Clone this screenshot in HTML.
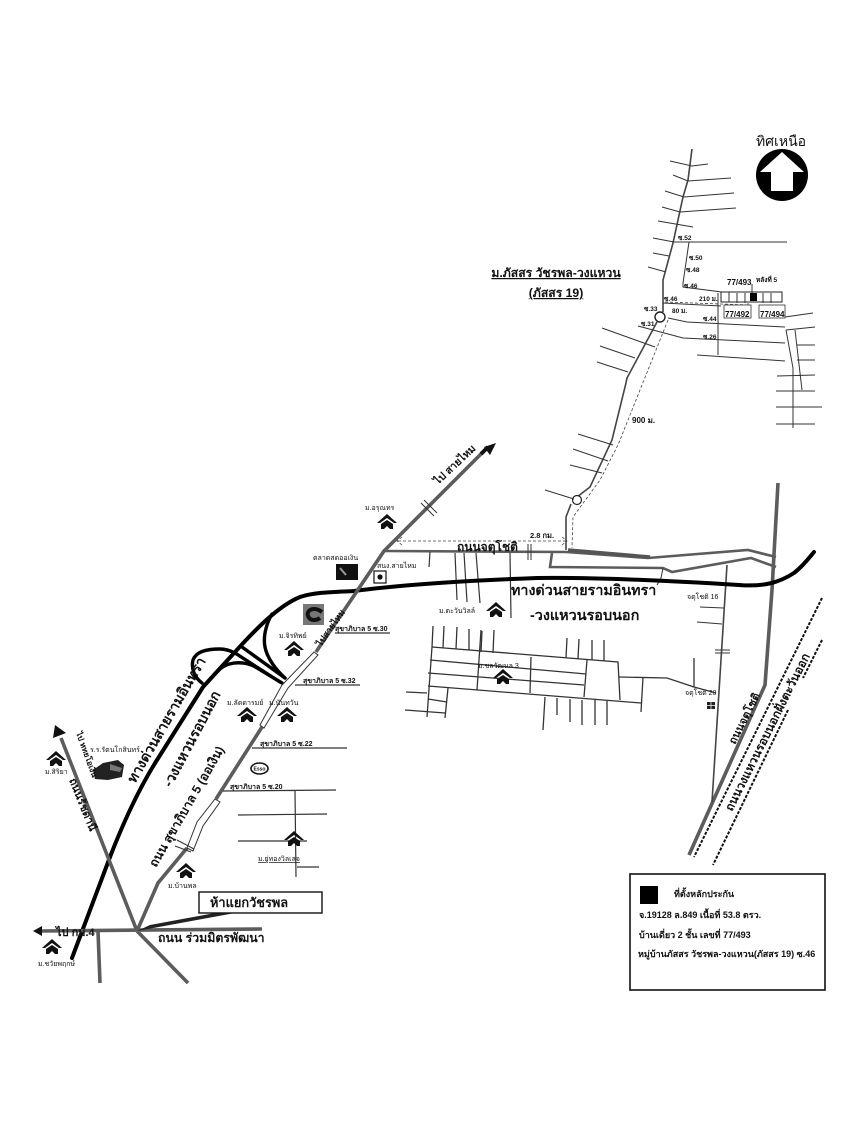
<!DOCTYPE html>
<html><head><meta charset="utf-8"><style>
html,body{margin:0;padding:0;background:#fff}
svg{display:block}
text{font-family:"Liberation Sans","DejaVu Sans","Noto Sans CJK SC",sans-serif;fill:#111}
.b{font-weight:bold}
.t{fill:none;stroke:#333;stroke-width:1}
.m{fill:none;stroke:#444;stroke-width:1.6}
.g{fill:none;stroke:#5c5c5c;stroke-width:3.6}
.k{fill:none;stroke:#000;stroke-width:4;stroke-linecap:round}
.d{fill:none;stroke:#444;stroke-width:.8;stroke-dasharray:3 2}
.dk{fill:none;stroke:#111;stroke-width:2;stroke-dasharray:3 1.5}
</style></head><body>
<svg width="850" height="1141" viewBox="0 0 850 1141" xmlns="http://www.w3.org/2000/svg">
<defs>
<g id="h"><path d="M0 -9 L10 0 L7 0 L0 -5 L-7 0 L-10 0Z" fill="#111"/><path d="M-6 1 L0 -3 L6 1 L6 6 L3 6 L0 3 L-3 6 L-6 6Z" fill="#111"/></g>
</defs>
<rect width="850" height="1141" fill="#fff"/>

<!-- north compass -->
<text x="781" y="146" font-size="14" text-anchor="middle">ทิศเหนือ</text>
<circle cx="782" cy="175" r="26" fill="#000"/>
<polygon points="782,152 804,172 793,172 793,191 771,191 771,172 760,172" fill="#fff"/>

<!-- upper village network -->
<path class="m" d="M692 149 L688 180 L683 197 L673 243 L663 280 L663 312"/>
<path class="m" d="M657 322 L627 378 L626 383 L612 440 L590 487 L577 497"/>
<path class="m" d="M571 504 L566 517 L566 550"/>
<circle cx="660" cy="317" r="5" fill="#fff" stroke="#222" stroke-width="1.4"/>
<circle cx="577" cy="500" r="4.500" fill="#fff" stroke="#222" stroke-width="1.2"/>
<path class="t" d="M670 161 L692 166 L708 164M673 175 L688 181 L731 178M665 191 L684 197 L734 193M662 207 L680 212 L736 208M658 221 L693 227M653 238 L674 242 L787 242M653 253 L669 256M648 267 L666 272"/>
<path class="t" d="M689 242 L683 283 L683 287 L722 292M668 318 L687 322 L785 327M638 326 L683 338 L785 343M718 293 L718 355M697 355 L785 361M663 303 L721 306"/>
<path class="t" d="M786 330 L793 368 L793 428M795 330 L802 390M786 330 L815 327M785 317 L813 313M797 345 L815 345M797 360 L815 360M777 376 L815 375M776 391 L815 391M776 407 L822 407M776 424 L815 424"/>
<path class="t" d="M602 328 L655 347M600 346 L635 358M597 362 L628 372M578 434 L613 445M573 449 L608 461M570 465 L602 473M545 490 L574 499"/>
<path class="d" d="M668 320 L620 440 L618 445 L600 480 L573 517 L572 548"/>
<path class="d" d="M665 302 L748 305 M748 298 L748 308"/>
<rect x="721" y="292" width="61" height="10" fill="#fff" stroke="#222" stroke-width="1"/>
<path class="t" d="M729 292v10M737 293v10M745 293v10M763 293v10M771 293v10"/>
<rect x="750" y="293" width="7" height="8" fill="#000"/>
<rect x="724" y="305" width="27" height="13" fill="#fff" stroke="#333" stroke-width=".8"/>
<rect x="759" y="305" width="26" height="13" fill="#fff" stroke="#333" stroke-width=".8"/>
<path class="t" d="M752 284 L752 293"/>
<text x="556" y="277" font-size="12.200" class="b" text-anchor="middle" text-decoration="underline">ม.ภัสสร วัชรพล-วงแหวน</text>
<text x="556" y="297" font-size="12.200" class="b" text-anchor="middle" text-decoration="underline">(ภัสสร 19)</text>
<g font-size="6.500" class="b">
<text x="678" y="240">ซ.52</text><text x="689" y="260">ซ.50</text><text x="686" y="272">ซ.48</text><text x="684" y="288">ซ.46</text>
<text x="664" y="301">ซ.46</text><text x="644" y="311">ซ.33</text><text x="641" y="326">ซ.31</text>
<text x="703" y="321">ซ.44</text><text x="703" y="339">ซ.26</text><text x="699" y="301">210 ม.</text><text x="672" y="313">80 ม.</text><text x="756" y="282">หลังที่ 5</text>
</g>
<g font-size="8" class="b">
<text x="727" y="285">77/493</text><text x="725" y="317">77/492</text><text x="760" y="317">77/494</text>
<text x="632" y="423">900 ม.</text>
</g>

<!-- Chatuchot road -->
<path class="g" style="stroke-width:2.600" d="M384 551 L566 552 L648 558 L748 550 L776 557M552 553 L550 567 L663 568 L672 572 L751 558 L776 567"/>
<path d="M568 550 L650 557" fill="none" stroke="#555" stroke-width="3.500"/>
<path class="t" d="M663 568 L661 578 L657 585"/>
<path class="g" d="M778 483 L772 590 L765 685 L689 855"/>
<path class="m" d="M727 565 L712 802"/>
<path class="t" d="M700 607 L724 608M697 622 L722 624M715 650 L730 650M715 653 L730 653"/>
<path class="t" d="M528 544 L528 560M531 544 L531 560"/>
<path class="d" d="M398 541 L566 541 M402 537 L397 541 L402 545M562 537 L567 541 L562 545"/>
<text x="530" y="538" font-size="7.500" class="b">2.8 กม.</text>
<text x="457" y="551" font-size="12" class="b">ถนนจตุโชติ</text>

<!-- side lanes off Chatuchot -->
<path class="t" style="stroke-width:1.2" d="M430 552 L429 567M455 553 L457 600M464 553 L467 602M476 553 L480 603M510 553 L511 618"/>

<!-- lower grid -->
<g class="t" style="stroke-width:1.3;fill:none;stroke:#333">
<path d="M432 647 L618 662 L620 700M430 660 L586 674M428 673 L584 685M428 686 L641 703M432 647 L427 717M481 630 L477 690M531 657 L530 693M587 660 L584 697M643 677 L641 712"/>
<path d="M433 626 L432 647M444 626 L443 648M457 627 L456 649M469 629 L469 650M482 631 L481 652M494 630 L493 653M567 638 L566 658M579 639 L578 659M592 640 L592 660M604 640 L604 661"/>
<path d="M545 697 L543 730M557 698 L557 715M570 699 L570 722M582 700 L582 725M595 700 L595 725M607 701 L607 725M406 692 L427 693M405 710 L445 713M428 699 L447 702M448 688 L445 718"/>
<path d="M619 677 L667 678 L694 687 L716 693M694 658 L694 687"/>
</g>

<!-- Expressway -->
<path class="k" d="M72 958 L110 857 C122 826 138 790 157 760 L203 687 L235 652 C255 630 278 606 300 597 C315 592 335 592 354 591 C400 585 455 581 537 578 C600 577 690 582 739 585 C765 587 780 582 794 573 C803 566 809 558 814 552"/>
<path class="k" style="stroke-width:3.400" d="M202 683 C194 677 191 668 193 660 C196 652 205 649 220 649 C226 649 231 651 235 653 L280 682"/>
<path class="k" style="stroke-width:3.400" d="M218 671 C224 664 234 662 243 663 C250 664 254 666 257 668 L282 683"/>
<path class="k" style="stroke-width:3.400" d="M242 647 L285 678"/>
<path class="k" style="stroke-width:3.400" d="M272 614 C266 624 263 637 265 647 C267 658 276 670 285 678"/>

<!-- Sukhaphiban 5 -->
<path class="g" d="M137 931 L158 883 L187 848 M216 799 L262 727 M316 652 L384 551 L483 452"/>
<polygon points="496,443 484,447 490,455" fill="#111"/>
<path d="M481 454 L488 447" stroke="#111" stroke-width="4"/>
<path d="M187 848 L197 822 L215 799 L220 802 L203 826 L193 851Z" fill="#fff" stroke="#333" stroke-width="1"/>
<path d="M260 725 L282 685 L314 652 L318 655 L288 688 L264 728Z" fill="#fff" stroke="#333" stroke-width="1"/>
<path class="t" d="M177 840 L194 849M175 846 L191 852M421 503 L434 516M424 500 L437 513"/>

<!-- west and south roads -->
<path class="g" d="M61 738 L137 931 M42 931 L262 929 M98 931 L100 983 M137 931 L188 983"/>
<polygon points="55,725 53,738 66,733" fill="#111"/>
<polygon points="42,926 42,936 33,931" fill="#111"/>
<polygon points="137,931 235,913 215,913 150,925" fill="#222"/>

<!-- Lanes off Sukhaphiban -->
<path class="t" style="stroke-width:1.2" d="M295 685 L360 685M335 633 L390 633M252 748 L347 748M223 791 L336 790M295 791 L296 877M238 815 L327 814M238 841 L307 841M297 867 L319 867"/>
<g font-size="7" class="b">
<text x="335" y="631">สุขาภิบาล 5 ซ.30</text>
<text x="303" y="683">สุขาภิบาล 5 ซ.32</text>
<text x="260" y="746">สุขาภิบาล 5 ซ.22</text>
<text x="230" y="789">สุขาภิบาล 5 ซ.20</text>
</g>

<!-- landmarks -->
<use href="#h" x="387" y="523"/><use href="#h" x="294" y="650"/><use href="#h" x="247" y="716"/><use href="#h" x="287" y="716"/>
<use href="#h" x="496" y="611"/><use href="#h" x="503" y="678"/><use href="#h" x="56" y="760"/><use href="#h" x="186" y="872"/>
<use href="#h" x="294" y="840"/><use href="#h" x="52" y="948"/>
<rect x="336" y="564" width="22" height="16" fill="#111"/>
<path d="M340 568 L346 575" stroke="#999" stroke-width="2"/>
<rect x="374" y="571" width="12" height="12" fill="#fff" stroke="#111" stroke-width="1.2"/><circle cx="380" cy="577" r="2.600" fill="#111"/>
<rect x="303" y="604" width="21" height="21" fill="#777"/><path d="M322 612 C314 606 306 610 308 616 C310 621 316 621 320 618" fill="none" stroke="#111" stroke-width="4"/>
<ellipse cx="259.500" cy="768.500" rx="8.500" ry="5.500" fill="#fff" stroke="#111" stroke-width="1.600"/>
<text x="259.500" y="770.500" font-size="5" class="b" text-anchor="middle">Esso</text>
<path d="M93 770 L103 763 L118 760 L124 765 L122 777 L108 780 L95 779Z" fill="#222"/><path d="M110 764 L122 768 L120 772 L110 770Z" fill="#777"/>
<rect x="707" y="702" width="8" height="7" fill="#222"/><path d="M711 702v7M707 705.500h8" stroke="#fff" stroke-width=".7"/>

<g font-size="7">
<text x="365" y="510">ม.อรุณทร</text>
<text x="313" y="560">ตลาดสดออเงิน</text>
<text x="377" y="568">สนง.สายไหม</text>
<text x="279" y="638">ม.จิรทิพย์</text>
<text x="227" y="705">ม.ลัดดารมย์</text>
<text x="269" y="705">ม.นันทวัน</text>
<text x="439" y="613">ม.ตะวันวิลล์</text>
<text x="478" y="668">ม.ชลวัฒนล 3</text>
<text x="90" y="752">ร.ร.รัตนโกสินทร์</text>
<text x="45" y="774">ม.สิริยา</text>
<text x="168" y="888">ม.บ้านพล</text>
<text x="258" y="861" text-decoration="underline">ม.ยู่ทองวิลเลจ</text>
<text x="38" y="966">ม.ชวัยพฤกษ์</text>
<text x="687" y="599">จตุโชติ 16</text>
<text x="685" y="695">จตุโชติ 20</text>
</g>

<!-- expressway labels -->
<text x="511" y="595" font-size="14.300" class="b">ทางด่วนสายรามอินทรา</text>
<text x="530" y="620" font-size="14.400" class="b">-วงแหวนรอบนอก</text>
<text transform="translate(135,784) rotate(-60)" font-size="14" class="b">ทางด่วนสายรามอินทรา</text>
<text transform="translate(171,788) rotate(-62)" font-size="14" class="b">-วงแหวนรอบนอก</text>
<text transform="translate(156,868) rotate(-60)" font-size="12.400" class="b">ถนน สุขาภิบาล 5  (ออเงิน)</text>
<text transform="translate(438,485) rotate(-43)" font-size="10.500" class="b">ไป สายไหม</text>
<text transform="translate(321,647) rotate(-55)" font-size="9" class="b">ไปสายไหม</text>
<text transform="translate(76,733) rotate(70)" font-size="8" class="b">ไป หทยโอเงิน</text>
<text transform="translate(69,780) rotate(68)" font-size="11" class="b">ถนนรัชดานี</text>
<text x="56" y="936" font-size="11" class="b">ไป กม.4</text>
<text x="158" y="942" font-size="12.300" class="b">ถนน ร่วมมิตรพัฒนา</text>
<text transform="translate(735,745) rotate(-63)" font-size="11" class="b">ถนนจตุโชติ</text>

<!-- callout -->
<rect x="199" y="892" width="123" height="21" fill="#fff" stroke="#111" stroke-width="1.400"/>
<text x="210" y="907" font-size="12.800" class="b">ห้าแยกวัชรพล</text>

<!-- dashed road -->
<path class="dk" d="M822 598 L694 857M822 640 L803 678M788 710 L713 865"/>
<text transform="translate(732,812) rotate(-63.400)" font-size="12" class="b">ถนนวงแหวนรอบนอกฝั่งตะวันออก</text>

<!-- legend -->
<rect x="630" y="874" width="195" height="116" fill="#fff" stroke="#111" stroke-width="1.600"/>
<rect x="640" y="886" width="18" height="18" fill="#000"/>
<g font-size="9" class="b">
<text x="674" y="897">ที่ตั้งหลักประกัน</text>
<text x="639" y="918">จ.19128 ล.849 เนื้อที่ 53.8 ตรว.</text>
<text x="639" y="938">บ้านเดี่ยว 2 ชั้น เลขที่ 77/493</text>
<text x="638" y="957">หมู่บ้านภัสสร วัชรพล-วงแหวน(ภัสสร 19) ซ.46</text>
</g>
</svg>
</body></html>
